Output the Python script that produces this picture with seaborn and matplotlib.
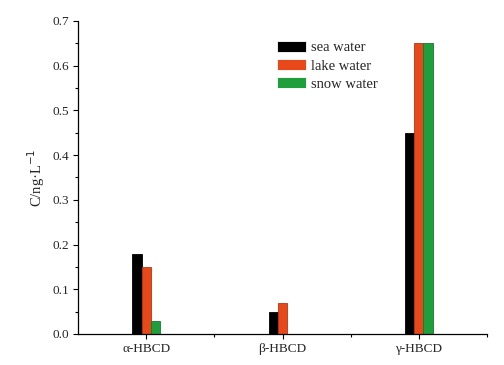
import numpy as np
import pandas as pd
import matplotlib
matplotlib.use("Agg")
import matplotlib.pyplot as plt
import seaborn as sns
from matplotlib.ticker import MultipleLocator, FixedLocator

categories = ["α-HBCD", "β-HBCD", "γ-HBCD"]
series = ["sea water", "lake water", "snow water"]
sea_water = [0.18, 0.05, 0.45]
lake_water = [0.15, 0.07, 0.65]
snow_water = [0.03, np.nan, 0.65]
colors = ["#000000", "#E8491B", "#1F9E3C"]
edge_colors = ["#000000", "#B83510", "#167A2C"]

rows = []
for name, vals in zip(series, [sea_water, lake_water, snow_water]):
    for c, v in zip(categories, vals):
        rows.append({"category": c, "series": name, "value": v})
df = pd.DataFrame(rows)

sns.set_style("ticks")
plt.rcParams["font.family"] = ["Liberation Serif", "DejaVu Serif"]

fig = plt.figure(figsize=(5.04, 3.65), dpi=100)
ax = fig.add_axes([78/504, 31/365, (487-78)/504, (334-21)/365])

sns.barplot(data=df, x="category", y="value", hue="series", order=categories,
            hue_order=series, palette=colors, width=0.205, ax=ax,
            linewidth=0.6, errorbar=None, saturation=1)

for cont, ec in zip(ax.containers, edge_colors):
    for p in cont:
        p.set_edgecolor(ec)

ax.set_xlim(-0.5, 2.5)
ax.set_ylim(0, 0.7)
ax.yaxis.set_major_locator(MultipleLocator(0.1))
ax.yaxis.set_minor_locator(MultipleLocator(0.05))
ax.xaxis.set_minor_locator(FixedLocator([0.5, 1.5, 2.5]))
ax.set_yticklabels([f"{v:.1f}" for v in ax.get_yticks()])
ax.tick_params(axis="both", which="major", direction="out", length=3.5, width=0.8, labelsize=9.5, color="black", pad=3)
ax.tick_params(axis="both", which="minor", direction="out", length=2, width=0.8, color="black")
for s in ["top", "right"]:
    ax.spines[s].set_visible(False)
for s in ["left", "bottom"]:
    ax.spines[s].set_linewidth(0.9)
    ax.spines[s].set_color("black")

ax.set_xlabel("")
ax.set_ylabel("C/ng·L$^{-1}$", fontsize=10.5, labelpad=4)

leg = ax.legend(loc="upper left", bbox_to_anchor=(0.462, 0.97), frameon=False,
                fontsize=10.5, handlelength=2.0, handleheight=0.8,
                handletextpad=0.3, labelspacing=0.32, borderpad=0.2)

fig.savefig("out.png", dpi=100)
